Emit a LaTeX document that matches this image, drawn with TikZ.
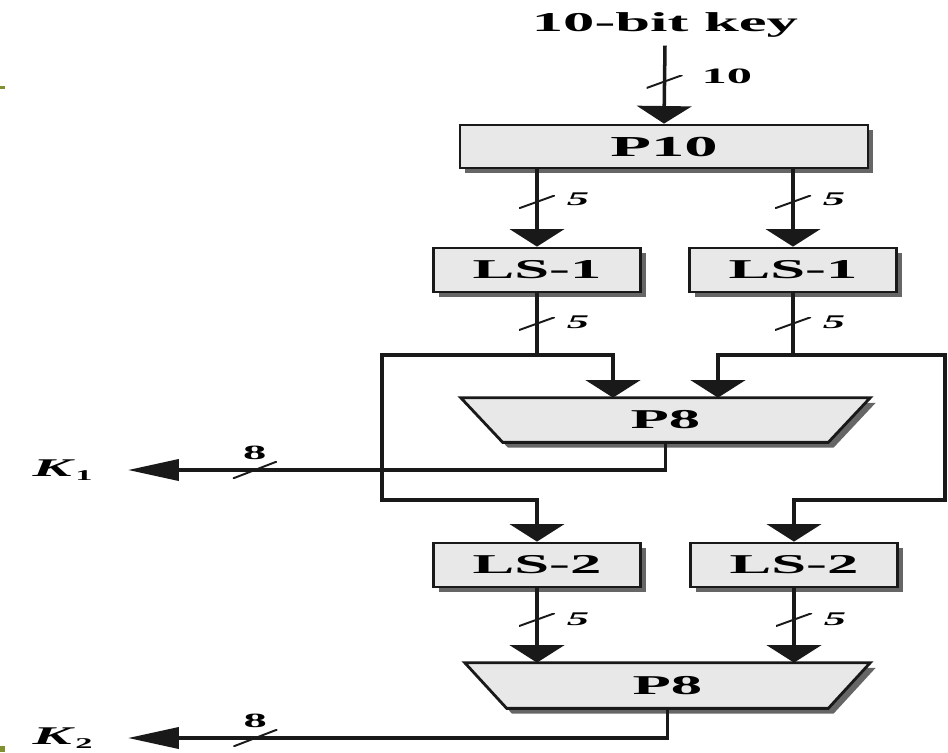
\documentclass[tikz,border=0pt]{standalone}
\usepackage{fontspec}
\usetikzlibrary{arrows.meta,shadows,backgrounds,calc}
\newfontfamily\diafont[FakeStretch=2.3]{Liberation Serif}
\definecolor{boxfill}{RGB}{232,232,232}
\definecolor{wirecolor}{RGB}{25,25,25}
\definecolor{slideolive}{RGB}{128,145,45}

\tikzset{
  stagebox/.style={draw=wirecolor, fill=boxfill, line width=1.6pt, inner sep=0pt,
    font=\diafont\bfseries\fontsize{15.5}{18}\selectfont,
    drop shadow={shadow xshift=3pt, shadow yshift=-3pt, fill=black!80, opacity=.75}},
  permlabel/.style={inner sep=0pt, font=\diafont\bfseries\fontsize{15.5}{18}\selectfont},
  link/.style={draw=wirecolor, line width=2pt},
  flowv/.style={link, -{Triangle[width=31pt,length=10pt]}},
  flowh/.style={link, -{Triangle[width=12pt,length=29pt]}},
  busmark/.style={minimum width=0.72cm, minimum height=0.26cm, inner sep=0pt,
    path picture={\draw[-, wirecolor, line width=1.1pt] (path picture bounding box.south west) -- (path picture bounding box.north east);}},
  busmarkh/.style={busmark, minimum width=0.88cm, minimum height=0.34cm},
  buswidth/.style={inner sep=0pt, font=\diafont\bfseries\itshape\fontsize{11}{13}\selectfont},
  buswidthup/.style={inner sep=0pt, font=\diafont\bfseries\fontsize{11.5}{13}\selectfont},
  keyout/.style={inner ysep=0pt, inner xsep=20pt, anchor=east, font=\diafont\bfseries\itshape\fontsize{14.5}{16}\selectfont}
}

\begin{document}
\begin{tikzpicture}[x=0.02cm, y=-0.02cm]
    \useasboundingbox (0,0) rectangle (948,752);
    % slide rule marks
    \fill[slideolive] (0,86) rectangle (5,89);
    \fill[slideolive] (0,746) rectangle (5,752);

    % Key input and permutation stages
    \node[permlabel] (key) at (665,25) {10-bit key};
    \node[stagebox, minimum width=8.16cm, minimum height=0.86cm, font=\diafont\bfseries\fontsize{16.5}{18}\selectfont] (p10) at (664,146.5) {P10};
    \node[stagebox, minimum width=4.14cm, minimum height=0.88cm] (ls1l) at (537,270) {LS-1};
    \node[stagebox, minimum width=4.14cm, minimum height=0.88cm] (ls1r) at (793,270) {LS-1};
    \node[permlabel, minimum width=8.18cm, minimum height=0.88cm] (p8a) at (665.5,420) {P8};
    \node[stagebox, minimum width=4.14cm, minimum height=0.88cm] (ls2l) at (537,565) {LS-2};
    \node[stagebox, minimum width=4.14cm, minimum height=0.88cm] (ls2r) at (794,565) {LS-2};
    \node[permlabel, minimum width=8.1cm, minimum height=0.9cm] (p8b) at (667.5,685.5) {P8};

    % Trapezoid outlines of the P8 boxes
    \begin{scope}[on background layer]
        \draw[stagebox] (p8a.north west) -- (p8a.north east) -- ([xshift=-0.84cm]p8a.south east) -- ([xshift=0.84cm]p8a.south west) -- cycle;
        \draw[stagebox] (p8b.north west) -- (p8b.north east) -- ([xshift=-0.84cm]p8b.south east) -- ([xshift=0.84cm]p8b.south west) -- cycle;
    \end{scope}

    % Subkey outputs
    \node[keyout] (k1) at (128,470) {K\hspace{2pt}\raisebox{-0.3ex}{\fontsize{8.5}{9}\selectfont\upshape 1}};
    \node[keyout] (k2) at (128,738) {K\hspace{2pt}\raisebox{-0.3ex}{\fontsize{8.5}{9}\selectfont\upshape 2}};

    % Branch points
    \coordinate (jl) at (537,355);
    \coordinate (jr) at (793,355);
    \coordinate (inl) at (613,355);
    \coordinate (inr) at (718,355);
    \coordinate (outl) at (382,500);
    \coordinate (outr) at (945,500);

    % Connectors
    \draw[flowv] ([yshift=-4.5pt]key.south) -- node[busmark, pos=.46]{} node[buswidthup, font=\diafont\bfseries\fontsize{12.5}{14}\selectfont, pos=.39, right=20pt]{10} (p10.north);
    \draw[flowv] (p10.south -| ls1l.north) -- node[busmark, pos=.42]{} node[buswidth, pos=.39, right=16pt]{5} (ls1l.north);
    \draw[flowv] (p10.south -| ls1r.north) -- node[busmark, pos=.42]{} node[buswidth, pos=.39, right=16pt]{5} (ls1r.north);
    \draw[link] (ls1l.south) -- node[busmark, pos=.49]{} node[buswidth, pos=.47, right=16pt]{5} (jl);
    \draw[link] (ls1r.south) -- node[busmark, pos=.49]{} node[buswidth, pos=.47, right=16pt]{5} (jr);
    \draw[flowv] (jl) -| (p8a.north -| inl);
    \draw[flowv] (jr) -| (p8a.north -| inr);
    \draw[flowv] (jl) -| (outl) -| (ls2l.north);
    \draw[flowv] (jr) -| (outr) -| (ls2r.north);
    \draw[flowh] (p8a.south) |- node[busmarkh, pos=.882]{} node[buswidthup, pos=.882, above=5pt]{8} (k1.east);
    \draw[flowv] (ls2l.south) -- node[busmark, pos=.42]{} node[buswidth, pos=.42, right=16pt]{5} (p8b.north -| ls2l.south);
    \draw[flowv] (ls2r.south) -- node[busmark, pos=.42]{} node[buswidth, pos=.42, right=16pt]{5} (p8b.north -| ls2r.south);
    \draw[flowh] (p8b.south) |- node[busmarkh, pos=.882]{} node[buswidthup, pos=.882, above=5pt]{8} (k2.east);
\end{tikzpicture}
\end{document}
